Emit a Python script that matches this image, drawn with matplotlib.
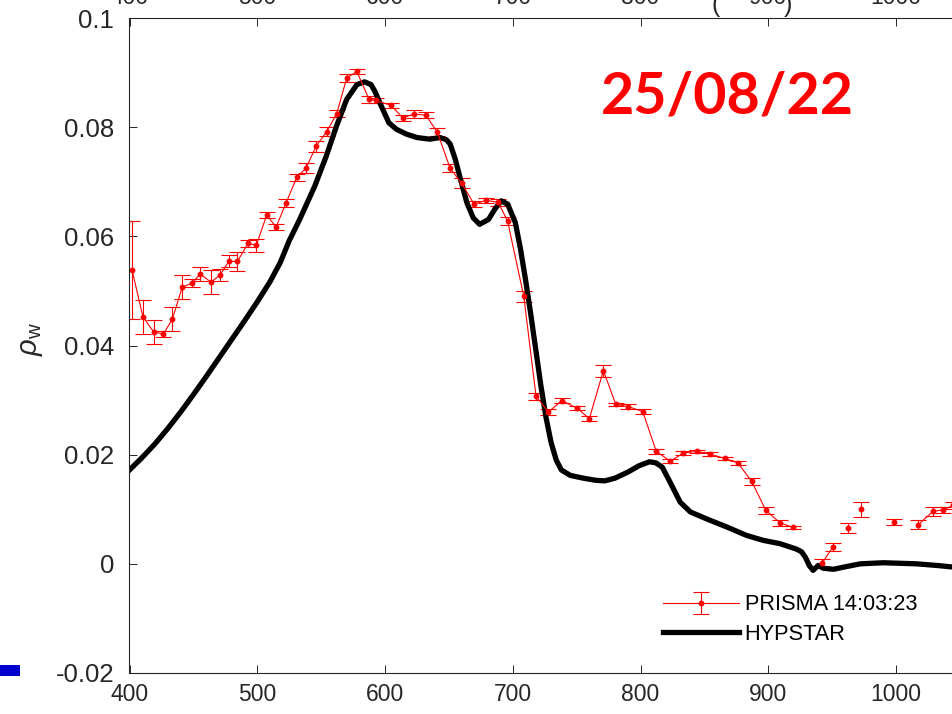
import numpy as np
import matplotlib.pyplot as plt
from matplotlib.patches import Rectangle
from matplotlib.ticker import FormatStrFormatter

plt.switch_backend("Agg")

nan = np.nan

# PRISMA water reflectance (nan = masked band)
prisma_wl = [402, 410.6, 418.9, 426.5, 433.5, 441.3, 448.7, 455.4, 463.8, 470.8,
             477.7, 484.4, 492.8, 499.3, 507.4, 514.7, 522.5, 530.9, 538.2, 546.0,
             554.4, 562.2, 570.0, 577.9, 587.5, 592.6, 604.7, 613.9, 622.5, 631.9,
             640.9, 650.9, 660.0, 669.7, 679.1, 688.7, 695.9, 708.6, 718.2, 727.8,
             738.3, 750.5, 759.9, 770.9, 780.6, 790.5, 801.7, 812.3, 823.3, 833.5,
             844.0, 854.4, 866.1, 876.1, 887.0, 898.0, 909.2, 919.0, 930.0, 942.3,
             950.5, 957.0, 962.7, 968.0, 972.4, 985.0, 998.2, 1008.0, 1017.5, 1028.7,
             1037.0, 1044.4]
prisma_rho = [0.0538, 0.0452, 0.0425, 0.0421, 0.0448, 0.0507, 0.0514, 0.0531, 0.0516, 0.0529,
              0.0554, 0.0554, 0.0587, 0.0584, 0.0639, 0.0617, 0.0661, 0.0708, 0.0725, 0.0765,
              0.0792, 0.0825, 0.0890, 0.0902, 0.0851, 0.0849, 0.0840, 0.0817, 0.0824, 0.0822,
              0.0791, 0.0725, 0.0697, 0.0659, 0.0666, 0.0662, 0.0628, 0.0490, 0.0307, 0.0278,
              0.0299, 0.0285, 0.0266, 0.0354, 0.0292, 0.0288, 0.0279, 0.0206, 0.0188, 0.0203,
              0.0206, 0.0201, 0.0193, 0.0185, 0.0151, 0.0098, 0.0075, 0.0067, nan, 0.0002,
              0.0031, nan, 0.0066, nan, 0.0100, nan, 0.0077, nan, 0.0072, 0.0096,
              0.0099, 0.0107]
prisma_err = [0.0090, 0.0031, 0.0022, 0.0006, 0.0022, 0.0022, 0.0007, 0.0012, 0.0022, 0.0011,
              0.0011, 0.0018, 0.0007, 0.0012, 0.0005, 0.0006, 0.0007, 0.0006, 0.0009, 0.0010,
              0.0008, 0.0007, 0.0007, 0.0005, 0.0006, 0.0005, 0.0005, 0.0005, 0.0008, 0.0005,
              0.0008, 0.0008, 0.0009, 0.0005, 0.0005, 0.0006, 0.0007, 0.0010, 0.0006, 0.0006,
              0.0005, 0.0004, 0.0005, 0.0011, 0.0003, 0.0005, 0.0004, 0.0004, 0.0004, 0.0003,
              0.0003, 0.0004, 0.0003, 0.0004, 0.0007, 0.0007, 0.0006, 0.0003, nan, 0.0007,
              0.0007, nan, 0.0009, nan, 0.0014, nan, 0.0006, nan, 0.0009, 0.0009,
              0.0005, 0.0007]

# HYPSTAR water reflectance
hypstar_wl = [400, 410, 420, 430, 440, 450, 460, 470, 480, 490, 500, 510, 518, 525, 533,
              545, 554, 562, 570, 578, 584, 589, 592, 597, 603, 609, 617, 625, 635, 643,
              648, 651, 655, 659, 664, 669, 674, 681, 686, 691, 696, 702, 706, 710, 714,
              718, 722, 726, 730, 734, 738, 745, 755, 765, 772, 780, 790, 799, 807, 812,
              817, 823, 831, 839, 852, 868, 883, 896, 909, 922, 926, 929, 932, 935, 939,
              943, 951, 959, 972, 990, 1016, 1032, 1045, 1050]
hypstar_rho = [0.0172, 0.0195, 0.0220, 0.0248, 0.0278, 0.0310, 0.0343, 0.0377, 0.0411, 0.0445,
               0.0480, 0.0517, 0.0552, 0.0592, 0.0630, 0.0692, 0.0747, 0.0802, 0.0851, 0.0878,
               0.0883, 0.0878, 0.0866, 0.0839, 0.0808, 0.0796, 0.0787, 0.0781, 0.0778, 0.0781,
               0.0777, 0.0769, 0.0741, 0.0705, 0.0662, 0.0634, 0.0622, 0.0631, 0.0650, 0.0665,
               0.0659, 0.0625, 0.0577, 0.0520, 0.0458, 0.0392, 0.0326, 0.0268, 0.0222, 0.0190,
               0.0172, 0.0162, 0.0157, 0.0153, 0.0152, 0.0157, 0.0168, 0.0180, 0.0187, 0.0185,
               0.0177, 0.0150, 0.0113, 0.0095, 0.0082, 0.0067, 0.0052, 0.0043, 0.0037, 0.0027,
               0.0022, 0.0012, -0.0003, -0.0012, -0.0003, -0.0008, -0.0010, -0.0006, 0.0000, 0.0002,
               0.0000, -0.0003, -0.0006, -0.0007]

xticks = [400, 500, 600, 700, 800, 900, 1000]
yticks = [-0.02, 0, 0.02, 0.04, 0.06, 0.08, 0.1]
prisma_label = "PRISMA 14:03:23"
hypstar_label = "HYPSTAR"
date_label = "25/08/22"

plt.rcParams["font.family"] = ["Liberation Sans", "DejaVu Sans"]
plt.rcParams["mathtext.fontset"] = "custom"
plt.rcParams["mathtext.rm"] = "Liberation Sans"
plt.rcParams["mathtext.it"] = "Liberation Sans:italic"

W, H = 953, 714
fig = plt.figure(figsize=(W / 100, H / 100), dpi=100)
ax = fig.add_axes([129.5 / W, 1 - 673 / H, 830.5 / W, 655 / H])

eb = ax.errorbar(prisma_wl, prisma_rho, yerr=prisma_err, color="#ff0000", lw=0.8,
                 elinewidth=0.8, capsize=6, capthick=0.8, marker="o", ms=3.2)
hl, = ax.plot(hypstar_wl, hypstar_rho, color="black", lw=3.8)

ax.set_xlim(400, 1050)
ax.set_ylim(-0.02, 0.1)
ax.set_xticks(xticks)
ax.set_yticks(yticks)
ax.yaxis.set_major_formatter(FormatStrFormatter("%g"))
ax.tick_params(direction="in", length=6, width=0.7, top=True, right=True,
               colors="#262626")
ax.tick_params(axis="x", labelsize=16.5, pad=7)
ax.tick_params(axis="y", labelsize=18.5, pad=11)
for s in ax.spines.values():
    s.set_color("#262626")
    s.set_linewidth(0.8)

ax.set_ylabel(r"$\rho_{\rm w}$", fontsize=21, color="#262626")
ax.yaxis.set_label_coords(-0.102, 0.51)

ax.legend([eb, hl], [prisma_label, hypstar_label], loc="lower left",
          bbox_to_anchor=(652 / W, 1 - 656 / H), bbox_transform=fig.transFigure,
          frameon=False, fontsize=15.7, handlelength=3.5, handletextpad=0.25,
          labelspacing=0.4, borderpad=0)

fig.text(601 / W, 1 - 113 / H, date_label, color="#ff0000", fontsize=41.3,
         fontweight="bold", family="Lato", va="baseline", ha="left")

# cut-off tick labels of the panel above
for xt in xticks:
    xp = 129.5 + (xt - 400) * 830.5 / 650
    fig.text(xp / W, 1 - 4 / H, str(xt), fontsize=16.5, color="#262626",
             ha="center", va="baseline")
fig.text(716 / W, 1 - 12 / H, "(", fontsize=18, color="#262626", ha="center", va="baseline")
fig.text(788 / W, 1 - 12 / H, ")", fontsize=18, color="#262626", ha="center", va="baseline")

fig.patches.append(Rectangle((0, 1 - 676 / H), 20 / W, 11 / H, transform=fig.transFigure,
                             facecolor="#0000cd", edgecolor="none"))

fig.savefig("out.png", dpi=100)
